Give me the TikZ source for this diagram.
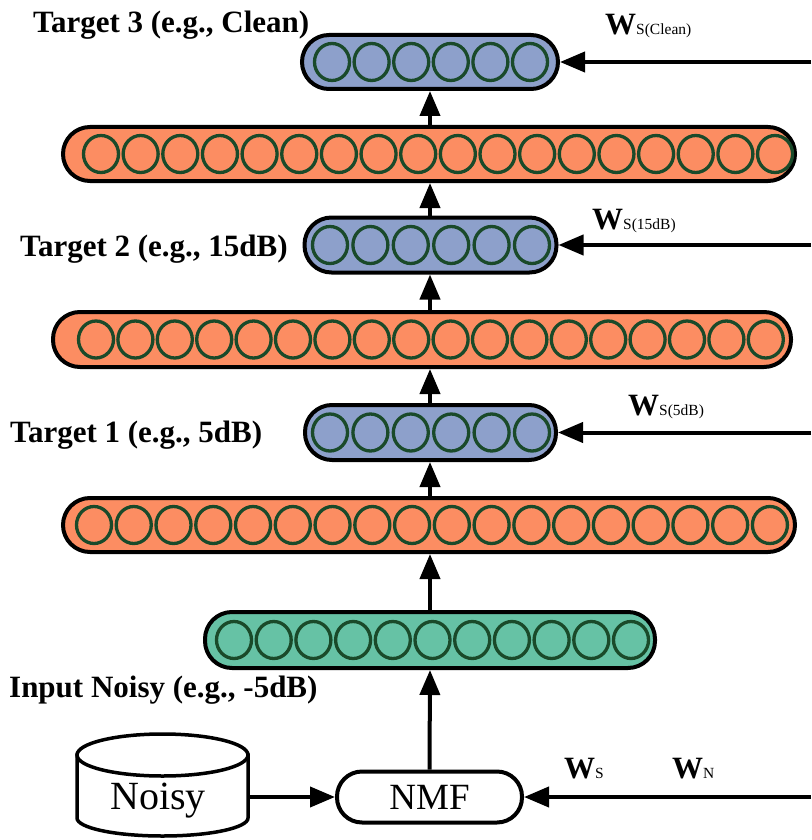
\documentclass[tikz,border=0pt]{standalone}
\usepackage{fontspec}
\setmainfont{Liberation Serif}
\usetikzlibrary{arrows.meta}
\definecolor{cblue}{HTML}{8DA0CB}
\definecolor{corange}{HTML}{FC8D62}
\definecolor{cgreen}{HTML}{66C2A5}
\definecolor{cring}{HTML}{1A4A2A}
\newcommand{\wlab}[1]{{\fontsize{31}{31}\selectfont\bfseries W}{\fontsize{15.5}{15.5}\selectfont #1}}
\tikzset{
  layer/.style={draw=black, line width=4pt, rectangle, rounded corners=27pt, inner sep=0pt},
  cell/.style={draw=cring, line width=3.3pt},
  arr/.style={line width=4pt, -{Triangle[length=25pt,width=20pt]}},
  lab/.style={font=\fontsize{31}{31}\selectfont\bfseries, inner sep=0pt, anchor=base west},
  wl/.style={inner sep=0pt, anchor=base west},
}
\begin{document}
\begin{tikzpicture}[x=1pt,y=-1pt]
\useasboundingbox (0,0) rectangle (811,840);
% layers
\node[layer, fill=cblue, minimum width=256pt, minimum height=54pt] (t3) at (430,62) {};
\node[layer, fill=corange, minimum width=732pt, minimum height=54pt] (o1) at (429,154) {};
\node[layer, fill=cblue, minimum width=252pt, minimum height=55pt] (t2) at (430.5,245) {};
\node[layer, fill=corange, minimum width=738pt, minimum height=55pt] (o2) at (422,339.5) {};
\node[layer, fill=cblue, minimum width=251pt, minimum height=55pt] (t1) at (430.5,432.5) {};
\node[layer, fill=corange, minimum width=732pt, minimum height=54pt] (o3) at (429,525) {};
\node[layer, fill=cgreen, minimum width=450pt, minimum height=56pt] (g) at (430,640) {};
% cells
\foreach \i in {0,...,5} \draw[cell] (332+\i*39.6,62) ellipse [x radius=17.5pt, y radius=18.5pt];
\foreach \i in {0,...,17} \draw[cell] (101+\i*39.65,154) ellipse [x radius=17.5pt, y radius=18.5pt];
\foreach \i in {0,...,5} \draw[cell] (330+\i*40.4,245) ellipse [x radius=17.5pt, y radius=18.5pt];
\foreach \i in {0,...,17} \draw[cell] (96+\i*39.4,339.5) ellipse [x radius=17.5pt, y radius=18.5pt];
\foreach \i in {0,...,5} \draw[cell] (330+\i*40.4,432.5) ellipse [x radius=17.5pt, y radius=18.5pt];
\foreach \i in {0,...,17} \draw[cell] (94+\i*39.76,525) ellipse [x radius=17.5pt, y radius=18.5pt];
\foreach \i in {0,...,10} \draw[cell] (234+\i*39.7,640) ellipse [x radius=17.5pt, y radius=18.5pt];
% NMF
\node[layer, fill=white, rounded corners=25pt, minimum width=185pt, minimum height=51pt, font=\fontsize{37}{37}\selectfont] (nmf) at (429.5,797) {NMF};
% database cylinder
\draw[line width=3.5pt, fill=white] (77,755) -- (77,818)
  .. controls (77,827.9) and (115.3,836) .. (162.5,836)
  .. controls (209.7,836) and (248,827.9) .. (248,818) -- (248,755) -- cycle;
\draw[line width=3.5pt, fill=white] (162.5,755) ellipse [x radius=85.5pt, y radius=21pt];
\node[inner sep=0pt, font=\fontsize{40}{40}\selectfont] (noisy) at (158,801) {Noisy};
\coordinate (dbR) at (250,797);
% right-side sources
\coordinate (r3) at (811,62);
\coordinate (r2) at (811,245);
\coordinate (r1) at (811,432.5);
\coordinate (r0) at (811,797);
% arrows
\draw[arr] (nmf.north) -- (g.south);
\draw[arr] (g.north) -- (o3.south -| g.north);
\draw[arr] (o3.north -| g.north) -- (t1.south -| g.north);
\draw[arr] (t1.north -| g.north) -- (o2.south -| g.north);
\draw[arr] (o2.north -| g.north) -- (t2.south -| g.north);
\draw[arr] (t2.north -| g.north) -- (o1.south -| g.north);
\draw[arr] (o1.north -| g.north) -- (t3.south -| g.north);
\draw[arr] (r3) -- (t3.east);
\draw[arr] (r2) -- (t2.east);
\draw[arr] (r1) -- (t1.east);
\draw[arr] (r0) -- (nmf.east);
\draw[arr] (dbR) -- (nmf.west);
% labels
\node[lab] (l3) at (33,33) {Target 3 (e.g., Clean)};
\node[lab] (l2) at (20,256) {Target 2 (e.g., 15dB)};
\node[lab] (l1) at (10,442) {Target 1 (e.g., 5dB)};
\node[lab] (l0) at (9,697) {Input Noisy (e.g., -5dB)};
\node[wl] (w3) at (605,35) {\wlab{S(Clean)}};
\node[wl] (w2) at (592,229) {\wlab{S(15dB)}};
\node[wl] (w1) at (628,415) {\wlab{S(5dB)}};
\node[wl] (ws) at (564,778) {\wlab{S}};
\node[wl] (wn) at (672,778) {\wlab{N}};
\end{tikzpicture}
\end{document}
